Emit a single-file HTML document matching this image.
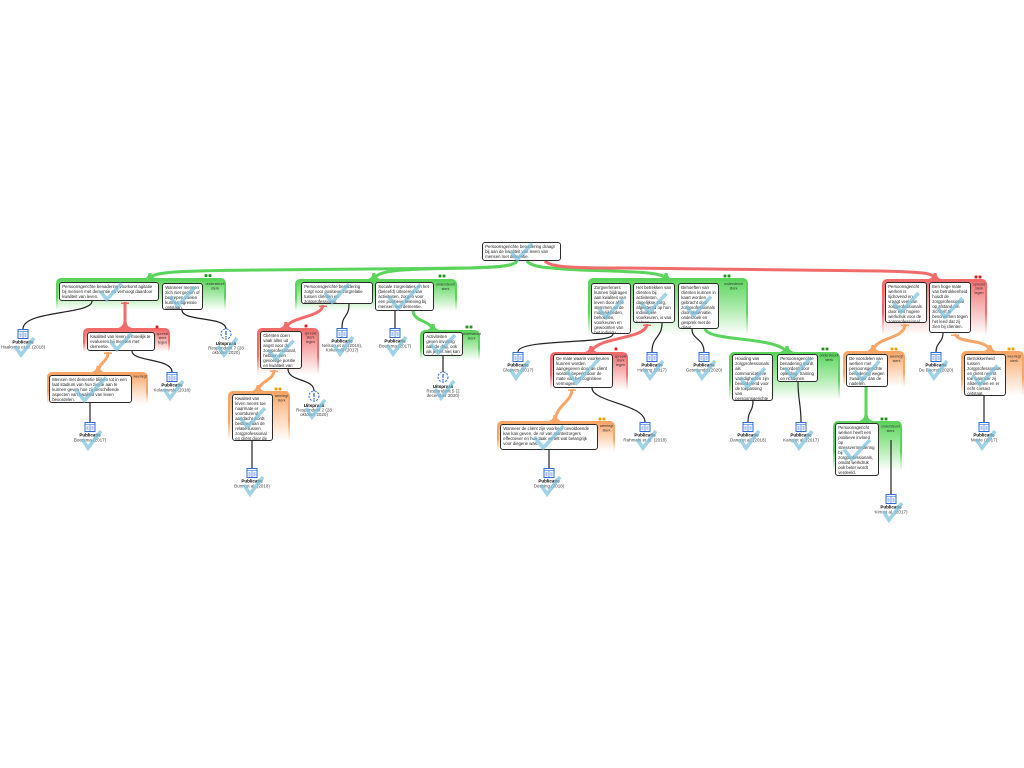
<!DOCTYPE html>
<html><head><meta charset="utf-8">
<style>
html,body{margin:0;padding:0;background:#fff;}
#c{position:relative;width:1024px;height:768px;overflow:hidden;background:#fff;font-family:"Liberation Sans",sans-serif;}
.g{position:absolute;border-radius:5px 5px 0 0;}
.g>i{position:absolute;left:2px;right:2px;top:2.5px;bottom:0;border-radius:3px 3px 0 0;}
.gg{background:linear-gradient(#5ad45a 0%,#5ad45a 60%,rgba(90,212,90,0) 100%);}
.gg>i{background:linear-gradient(#62d762 0%,#a4e9a4 45%,#fff 100%);}
.gr{background:linear-gradient(#f26b6b 0%,#f26b6b 60%,rgba(242,107,107,0) 100%);}
.gr>i{background:linear-gradient(#f27575 0%,#f7b3b3 45%,#fff 100%);}
.go{background:linear-gradient(#f9a566 0%,#f9a566 60%,rgba(249,165,102,0) 100%);}
.go>i{background:linear-gradient(#f9ab70 0%,#fcd3b3 45%,#fff 100%);}
.b{position:absolute;box-sizing:border-box;background:#fff;border:1.4px solid #2a2a2a;border-radius:3px;font:4.3px/5px "Liberation Sans",sans-serif;color:#222;padding:1.4px 2.2px;overflow:hidden;}
svg{position:absolute;left:0;top:0;}
.t{font-family:"Liberation Sans",sans-serif;font-size:4.5px;text-anchor:middle;fill:#444;}
.tb{font-weight:bold;fill:#000;}
.l{font-family:"Liberation Sans",sans-serif;font-size:3.6px;text-anchor:middle;fill:#333;}
</style></head><body><div id="c">

<!-- groups -->
<div class="g gg" style="left:56px;top:278px;width:170px;height:32px"><i></i></div>
<div class="g gr" style="left:83px;top:328px;width:87px;height:24px"><i></i></div>
<div class="g go" style="left:47px;top:372px;width:101px;height:32px"><i></i></div>
<div class="g gg" style="left:295px;top:279px;width:162px;height:32px"><i></i></div>
<div class="g gr" style="left:257px;top:328px;width:62px;height:47px"><i></i></div>
<div class="g gg" style="left:420px;top:330px;width:60px;height:30px"><i></i></div>
<div class="g go" style="left:228px;top:391px;width:62px;height:50px"><i></i></div>
<div class="g gg" style="left:588px;top:278px;width:160px;height:57px"><i></i></div>
<div class="g gr" style="left:550px;top:352px;width:78px;height:38px"><i></i></div>
<div class="g go" style="left:497px;top:421px;width:118px;height:30px"><i></i></div>
<div class="g gg" style="left:729px;top:352px;width:111px;height:48px"><i></i></div>
<div class="g gr" style="left:882px;top:279px;width:105px;height:56px"><i></i></div>
<div class="g go" style="left:843px;top:351px;width:62px;height:36px"><i></i></div>
<div class="g go" style="left:961px;top:351px;width:63px;height:45px"><i></i></div>
<div class="g gg" style="left:833px;top:421px;width:69px;height:50px"><i></i></div>

<!-- connectors -->
<svg width="1024" height="768" viewBox="0 0 1024 768">
<g fill="none" stroke-width="3" stroke-linecap="butt">
<g stroke="#5ad45a">
<path d="M517 261 C514 266 500 267 470 268 L260 270 C170 271 152 272 150 279"/>
<path d="M517 261 C514 266 500 267 470 268 C400 269 378 270 374 279"/>
<path d="M527 261 C531 267 545 268 580 270 C640 272 663 272 666 279"/>
<path d="M413 311 C414 322 430 320 433 330"/>
<path d="M705 329 C710 342 775 336 787 352"/>
<path d="M866 387 L866 421"/>
</g>
<g stroke="#f26b6b">
<path d="M545 261 C550 267 570 268 620 268 L880 271 C925 272 933 273 935 279"/>
<path d="M125 302 L125 328"/>
<path d="M323 305 C322 318 290 316 286 328"/>
<path d="M647 324 C646 340 598 336 591 352"/>
</g>
<g stroke="#f9a566">
<path d="M108 352 C108 362 99 362 98 372"/>
<path d="M274 370 C274 381 260 380 258 391"/>
<path d="M572 389 C572 402 556 405 555 421"/>
<path d="M905 324 C905 340 876 336 873 351"/>
<path d="M955 334 C958 344 987 338 990 351"/>
</g>
</g>
<!-- flares -->
<g fill="#5ad45a">
<path d="M143 279 Q148.5 277.5 148.5 273 L151.5 273 Q151.5 277.5 157 279Z"/>
<path d="M368 279 Q372.5 277.5 372.5 273 L375.5 273 Q375.5 277.5 380 279Z"/>
<path d="M660 279 Q664.5 277.5 664.5 273 L667.5 273 Q667.5 277.5 672 279Z"/>
<path d="M427 330 Q431.5 328.5 431.5 324 L434.5 324 Q434.5 328.5 439 330Z"/>
<path d="M780 352 Q785.5 350.5 785.5 346 L788.5 346 Q788.5 350.5 794 352Z"/>
<path d="M859 421 Q864.5 419.5 864.5 414 L867.5 414 Q867.5 419.5 873 421Z"/>
</g>
<g fill="#f26b6b">
<path d="M929 279 Q933.5 277.5 933.5 273 L936.5 273 Q936.5 277.5 941 279Z"/>
<path d="M118 328 Q123.5 326.5 123.5 321 L126.5 321 Q126.5 326.5 132 328Z"/>
<path d="M280 328 Q284.5 326.5 284.5 322 L287.5 322 Q287.5 326.5 292 328Z"/>
<path d="M585 352 Q589.5 350.5 589.5 346 L592.5 346 Q592.5 350.5 597 352Z"/>
<path d="M121 302.5 H129 V304 H121Z"/>
<path d="M319 305.5 H327 V307 H319Z"/>
<path d="M643 324.5 H651 V326 H643Z"/>
</g>
<g fill="#f9a566">
<path d="M92 372 Q96.5 370.5 96.5 366 L99.5 366 Q99.5 370.5 104 372Z"/>
<path d="M252 391 Q256.5 389.5 256.5 385 L259.5 385 Q259.5 389.5 264 391Z"/>
<path d="M549 421 Q553.5 419.5 553.5 415 L556.5 415 Q556.5 419.5 561 421Z"/>
<path d="M867 351 Q871.5 349.5 871.5 345 L874.5 345 Q874.5 349.5 879 351Z"/>
<path d="M984 351 Q988.5 349.5 988.5 345 L991.5 345 Q991.5 349.5 996 351Z"/>
<path d="M104 352.5 H112 V354 H104Z"/>
<path d="M270 370.5 H278 V372 H270Z"/>
<path d="M568 389.5 H576 V391 H568Z"/>
<path d="M901 324.5 H909 V326 H901Z"/>
<path d="M951 334.5 H959 V336 H951Z"/>
</g>
<!-- black connectors -->
<g fill="none" stroke="#222" stroke-width="1.2">
<path d="M92 301 C92 315 23 310 23 329"/>
<path d="M132 351 C132 362 172 358 172 372"/>
<path d="M90 403 L90 422"/>
<path d="M182 310 C182 322 226 316 226 329"/>
<path d="M349 304 C349 318 342 314 342 328"/>
<path d="M395 311 L395 328"/>
<path d="M443 356 L443 372"/>
<path d="M288 369 C288 382 314 378 314 391"/>
<path d="M252 441 L252 468"/>
<path d="M613 334 C613 345 518 338 518 352"/>
<path d="M662 323 C662 338 652 336 652 352"/>
<path d="M692 329 C692 340 704 338 704 352"/>
<path d="M592 388 C592 402 645 404 645 422"/>
<path d="M549 450 L549 468"/>
<path d="M753 401 C753 412 748 410 748 422"/>
<path d="M798 382 C798 400 801 404 801 422"/>
<path d="M943 333 C943 343 936 342 936 352"/>
<path d="M984 396 L984 422"/>
<path d="M891 440 L891 494"/>
</g>
<!-- dots -->
<g fill="#1f8f1f">
<rect x="204.6" y="274.2" width="2.8" height="2.8"/><rect x="208.6" y="274.2" width="2.8" height="2.8"/>
<rect x="438.6" y="274.6" width="2.8" height="2.8"/><rect x="442.6" y="274.6" width="2.8" height="2.8"/>
<rect x="465.6" y="325.6" width="2.8" height="2.8"/><rect x="469.6" y="325.6" width="2.8" height="2.8"/>
<rect x="723.6" y="274.6" width="2.8" height="2.8"/><rect x="727.6" y="274.6" width="2.8" height="2.8"/>
<rect x="821.6" y="347.6" width="2.8" height="2.8"/><rect x="825.6" y="347.6" width="2.8" height="2.8"/>
<rect x="880.6" y="417.6" width="2.8" height="2.8"/><rect x="884.6" y="417.6" width="2.8" height="2.8"/>
</g>
<g fill="#e01818">
<rect x="155.6" y="325.6" width="2.8" height="2.8"/>
<rect x="304.6" y="324.6" width="2.8" height="2.8"/>
<rect x="614.6" y="347.6" width="2.8" height="2.8"/>
<rect x="974.6" y="275.6" width="2.8" height="2.8"/><rect x="978.6" y="275.6" width="2.8" height="2.8"/>
</g>
<g fill="#f29b00">
<rect x="274.6" y="387.6" width="2.8" height="2.8"/><rect x="278.6" y="387.6" width="2.8" height="2.8"/>
<rect x="598.6" y="417.6" width="2.8" height="2.8"/><rect x="602.6" y="417.6" width="2.8" height="2.8"/>
<rect x="890.6" y="347.6" width="2.8" height="2.8"/><rect x="894.6" y="347.6" width="2.8" height="2.8"/>
<rect x="1007.6" y="347.6" width="2.8" height="2.8"/><rect x="1011.6" y="347.6" width="2.8" height="2.8"/>
</g>
<!-- group labels -->
<text class="l" x="215" y="285">ondersteunt</text><text class="l" x="215" y="289.5">sterk</text>
<text class="l" x="162.5" y="335">spreekt</text><text class="l" x="162.5" y="339.2">sterk</text><text class="l" x="162.5" y="343.4">tegen</text>
<text class="l" x="140" y="377.5">weerlegt</text>
<text class="l" x="445.5" y="285.5">ondersteunt</text><text class="l" x="445.5" y="290">sterk</text>
<text class="l" x="310.5" y="334.5">spreekt</text><text class="l" x="310.5" y="338.7">sterk</text><text class="l" x="310.5" y="342.9">tegen</text>
<text class="l" x="471.5" y="335">ondersteunt</text><text class="l" x="471.5" y="339.5">sterk</text>
<text class="l" x="281.5" y="397">weerlegt</text><text class="l" x="281.5" y="401.5">sterk</text>
<text class="l" x="733.5" y="285">ondersteunt</text><text class="l" x="733.5" y="289.5">sterk</text>
<text class="l" x="620.5" y="357.5">spreekt</text><text class="l" x="620.5" y="361.7">sterk</text><text class="l" x="620.5" y="365.9">tegen</text>
<text class="l" x="606.5" y="427">weerlegt</text><text class="l" x="606.5" y="431.5">sterk</text>
<text class="l" x="829" y="356.5">ondersteunt</text><text class="l" x="829" y="361">sterk</text>
<text class="l" x="979" y="285.5">spreekt</text><text class="l" x="979" y="289.7">sterk</text><text class="l" x="979" y="293.9">tegen</text>
<text class="l" x="896.5" y="357.5">weerlegt</text><text class="l" x="896.5" y="362">sterk</text>
<text class="l" x="1014" y="357.5">weerlegt</text><text class="l" x="1014" y="362">sterk</text>
<text class="l" x="890.5" y="427.5">ondersteunt</text><text class="l" x="890.5" y="432">sterk</text>
</svg>

<!-- boxes -->
<div class="b" style="left:482px;top:242px;width:79px;height:19px">Persoonsgerichte benadering draagt bij aan de kwaliteit van leven van mensen met dementie.</div>
<div class="b" style="left:59px;top:282px;width:100px;height:19px">Persoonsgerichte benadering voorkomt agitatie bij mensen met dementie en verhoogt daardoor kwaliteit van leven.</div>
<div class="b" style="left:162px;top:283px;width:41px;height:27px">Wanneer mensen zich niet gezien of begrepen voelen kunnen agressie ontstaan.</div>
<div class="b" style="left:87px;top:332px;width:68px;height:19px">Kwaliteit van leven is moeilijk te evalueren bij mensen met dementie.</div>
<div class="b" style="left:49px;top:375px;width:83px;height:28px">Mensen met dementie blijken tot in een laat stadium van hun ziekte aan te kunnen geven hoe zij verschillende aspecten van kwaliteit van leven beoordelen.</div>
<div class="b" style="left:301px;top:282px;width:72px;height:22px">Persoonsgerichte benadering zorgt voor positieve zorgrelatie tussen cliënten en zorgprofessional.</div>
<div class="b" style="left:375px;top:282px;width:59px;height:29px">Sociale zorgrelaties en het (beleefd) uitvoeren van activiteiten, zorgen voor een positieve beleving bij mensen met dementie.</div>
<div class="b" style="left:260px;top:331px;width:42px;height:38px">Cliënten doen vaak alles uit angst voor de zorgprofessional, hebben een gevoelige positie en kwaliteit van leven gaat omlaag.</div>
<div class="b" style="left:423px;top:332px;width:40px;height:24px">Activiteiten geven invulling aan de dag, ook als je het niet kan tot lang beseffen.</div>
<div class="b" style="left:232px;top:394px;width:41px;height:47px">Kwaliteit van leven neemt toe naarmate er voortdurend aandacht wordt besteed aan de relatie tussen zorgprofessional en cliënt door de zorgprofessional.</div>
<div class="b" style="left:591px;top:283px;width:40px;height:51px">Zorgverleners kunnen bijdragen aan kwaliteit van leven door af te stemmen op de mogelijkheden, behoeften, voorkeuren en gewoonten van het individu.</div>
<div class="b" style="left:633px;top:283px;width:42px;height:40px">Het betrekken van cliënten bij activiteiten, dagelijkse zorg, afgestemd op hun individuele voorkeuren, is van belang.</div>
<div class="b" style="left:678px;top:283px;width:41px;height:46px">Behoeften van cliënten kunnen in kaart worden gebracht door zorgprofessionals door observatie, onderzoek en gesprek met de cliënt.</div>
<div class="b" style="left:553px;top:354px;width:60px;height:34px">De mate waarin voorkeuren kunnen worden aangegeven door de cliënt worden beperkt door de mate van het cognitieve vermogen.</div>
<div class="b" style="left:500px;top:424px;width:98px;height:26px">Wanneer de cliënt zijn voorkeur onvoldoende kan kan geven, de rol van mantelzorgers effectiever en hun taak vertelt wat belangrijk voor diegene was.</div>
<div class="b" style="left:732px;top:354px;width:41px;height:47px">Houding van zorgprofessionals als communicatieve vaardigheden zijn bevorderend voor de toepassing van persoonsgerichte benadering.</div>
<div class="b" style="left:777px;top:354px;width:41px;height:28px">Persoonsgerichte benadering wordt bevorderd door opleiding, training en richtlijnen.</div>
<div class="b" style="left:885px;top:282px;width:42px;height:41px">Persoonsgericht werken is tijdrovend en vraagt veel van zorgprofessionals door een hogere werkdruk voor de zorgprofessional.</div>
<div class="b" style="left:929px;top:282px;width:42px;height:51px">Een hoge mate van betrokkenheid houdt de zorgprofessional op afstand om zichzelf te beschermen tegen het leed dat zij zien bij cliënten.</div>
<div class="b" style="left:846px;top:354px;width:42px;height:33px">De voordelen van werken met persoonsgerichte benadering wegen zwaarder dan de nadelen.</div>
<div class="b" style="left:964px;top:354px;width:42px;height:42px">Betrokkenheid tussen zorgprofessionals en cliënt neemt toe wanneer zij afstemmen en er echt contact ontstaat.</div>
<div class="b" style="left:835px;top:423px;width:44px;height:53px">Persoonsgericht werken heeft een positieve invloed op stressvermindering bij zorgprofessionals, omdat werkdruk ook beter wordt verdeeld.</div>

<!-- icons, icon labels and checks -->
<svg width="1024" height="768" viewBox="0 0 1024 768">
<defs>
<g id="pub"><rect x="-5" y="-4.5" width="10" height="9" fill="#fff" stroke="#2d6bd9" stroke-width="1"/><path d="M-5 -2.3H5M0 -2.3V4.5M-3.6 0H-1.4M1.4 0H3.6M-3.6 2H-1.4M1.4 2H3.6" stroke="#2d6bd9" stroke-width="0.7" fill="none"/></g>
<g id="uit"><circle r="5" fill="#fff" stroke="#2d6bd9" stroke-width="1" stroke-dasharray="2.2 1.2"/><path d="M0 -3V1" stroke="#2d6bd9" stroke-width="1.3"/><circle cy="2.8" r="0.8" fill="#2d6bd9"/></g>
</defs>
<use href="#pub" x="23" y="334"/><text class="t tb" x="23" y="343.5">Publicatie</text><text class="t" x="23" y="348.5">Haaksma et al. (2018)</text>
<use href="#pub" x="172" y="377"/><text class="t tb" x="172" y="386.5">Publicatie</text><text class="t" x="172" y="391.5">Kolanowski (2018)</text>
<use href="#pub" x="90" y="427"/><text class="t tb" x="90" y="436.5">Publicatie</text><text class="t" x="90" y="441.5">Boersma (2017)</text>
<use href="#uit" x="226" y="334"/><text class="t tb" x="226" y="345">Uitspraak</text><text class="t" x="226" y="349.5">Respondent 7 (28</text><text class="t" x="226" y="354">oktober 2020)</text>
<use href="#pub" x="342" y="333"/><text class="t tb" x="342" y="342.5">Publicatie</text><text class="t" x="342" y="347">Nelson et al. (2018),</text><text class="t" x="342" y="351.5">Kirkevold (2017)</text>
<use href="#pub" x="395" y="333"/><text class="t tb" x="395" y="342.5">Publicatie</text><text class="t" x="395" y="347.5">Boersma (2017)</text>
<use href="#uit" x="443" y="377"/><text class="t tb" x="443" y="388">Uitspraak</text><text class="t" x="443" y="392.5">Respondent 5 (2</text><text class="t" x="443" y="397">december 2020)</text>
<use href="#uit" x="314" y="396"/><text class="t tb" x="314" y="407">Uitspraak</text><text class="t" x="314" y="411.5">Respondent 2 (28</text><text class="t" x="314" y="416">oktober 2020)</text>
<use href="#pub" x="252" y="473"/><text class="t tb" x="252" y="482.5">Publicatie</text><text class="t" x="252" y="487.5">Bunn et al. (2018)</text>
<use href="#pub" x="518" y="357"/><text class="t tb" x="518" y="366.5">Publicatie</text><text class="t" x="518" y="371.5">Gleaves (2017)</text>
<use href="#pub" x="652" y="357"/><text class="t tb" x="652" y="366.5">Publicatie</text><text class="t" x="652" y="371.5">Helsing (2017)</text>
<use href="#pub" x="704" y="357"/><text class="t tb" x="704" y="366.5">Publicatie</text><text class="t" x="704" y="371.5">Gesmundo (2020)</text>
<use href="#pub" x="645" y="427"/><text class="t tb" x="645" y="436.5">Publicatie</text><text class="t" x="645" y="441.5">Rahmani et al. (2018)</text>
<use href="#pub" x="549" y="473"/><text class="t tb" x="549" y="482.5">Publicatie</text><text class="t" x="549" y="487.5">Dessing (2018)</text>
<use href="#pub" x="748" y="427"/><text class="t tb" x="748" y="436.5">Publicatie</text><text class="t" x="748" y="441.5">Dang et al. (2018)</text>
<use href="#pub" x="801" y="427"/><text class="t tb" x="801" y="436.5">Publicatie</text><text class="t" x="801" y="441.5">Kang et al. (2017)</text>
<use href="#pub" x="936" y="357"/><text class="t tb" x="936" y="366.5">Publicatie</text><text class="t" x="936" y="371.5">De Boorst (2020)</text>
<use href="#pub" x="984" y="427"/><text class="t tb" x="984" y="436.5">Publicatie</text><text class="t" x="984" y="441.5">Moyle (2017)</text>
<use href="#pub" x="891" y="499"/><text class="t tb" x="891" y="508.5">Publicatie</text><text class="t" x="891" y="513.5">Kim et al. (2017)</text>

<g fill="none" stroke="rgb(120,192,222)" stroke-opacity="0.7" stroke-width="3.6" stroke-linejoin="miter">
<polyline points="511,251.5 517.3,259.5 532,243.5"/>
<polyline points="100.5,291.5 106.8,299.5 121.5,283.5"/>
<polyline points="170,296.5 177.5,305.9 195,287.1"/>
<polyline points="110.5,341.5 116.8,349.5 131.5,333.5"/>
<polyline points="75,389 84.3,400.5 106,377.5"/>
<polyline points="325,293 332.2,302 349,284"/>
<polyline points="388.5,296.5 398.1,308.5 420.5,284.5"/>
<polyline points="268.5,350 276,359.5 293.5,340.5"/>
<polyline points="431,344 438.2,353 455,335"/>
<polyline points="240,417.5 247.5,427 265,408"/>
<polyline points="599,308.5 606.2,317.5 623,299.5"/>
<polyline points="641.5,303 649,312.5 666.5,293.5"/>
<polyline points="686,306 693.5,315.5 711,296.5"/>
<polyline points="567,371 576.6,383 599,359"/>
<polyline points="534.5,437 543.2,448 563.5,426"/>
<polyline points="740,377.5 747.5,387 765,368"/>
<polyline points="785,368 792.5,377.5 810,358.5"/>
<polyline points="893.5,302.5 901,312 918.5,293"/>
<polyline points="937.5,307.5 945,317 962.5,298"/>
<polyline points="854.5,370.5 862,380 879.5,361"/>
<polyline points="972.5,375 980,384.5 997.5,365.5"/>
<polyline points="844,449.5 851.8,459.3 870,439.8"/>
<polyline points="15,346 21,355 34,338"/>
<polyline points="164,389 170,398 183,381"/>
<polyline points="82,439 88,448 101,431"/>
<polyline points="218,346 224,355 237,338"/>
<polyline points="334,345 340,354 353,337"/>
<polyline points="387,345 393,354 406,337"/>
<polyline points="435,389 441,398 454,381"/>
<polyline points="306,408 312,417 325,400"/>
<polyline points="244,485 250,494 263,477"/>
<polyline points="510,369 516,378 529,361"/>
<polyline points="644,369 650,378 663,361"/>
<polyline points="696,369 702,378 715,361"/>
<polyline points="637,439 643,448 656,431"/>
<polyline points="541,485 547,494 560,477"/>
<polyline points="740,439 746,448 759,431"/>
<polyline points="793,439 799,448 812,431"/>
<polyline points="928,369 934,378 947,361"/>
<polyline points="976,439 982,448 995,431"/>
<polyline points="883,511 889,520 902,503"/>
</g>
</svg>
</div></body></html>
